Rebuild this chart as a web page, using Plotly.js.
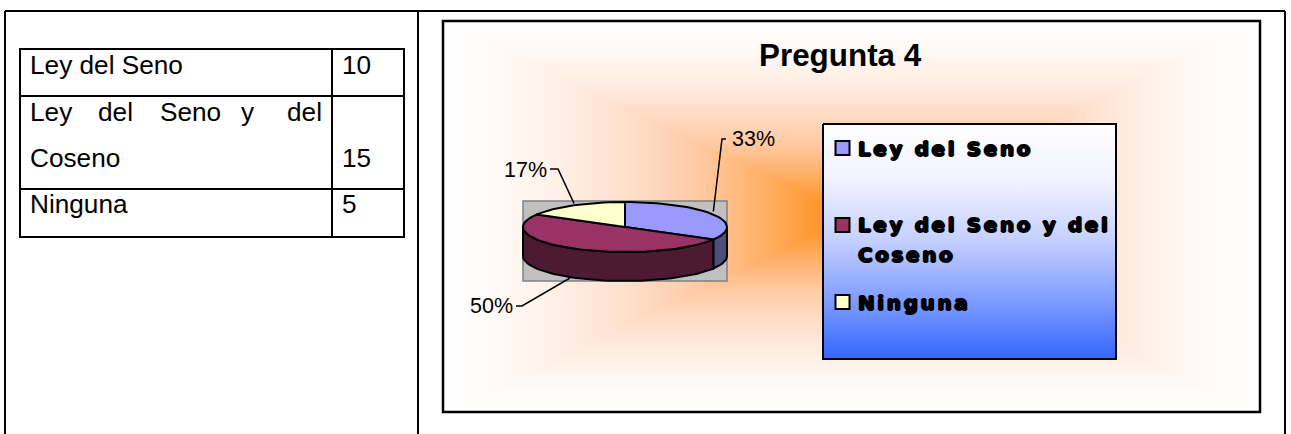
<!DOCTYPE html>
<html>
<head>
<meta charset="utf-8">
<title>Pregunta 4</title>
<script src="https://cdn.plot.ly/plotly-3.0.1.min.js"></script>
<style>html,body{margin:0;padding:0;background:#fff}#chart{width:1291px;height:434px}</style>
</head>
<body>
<div id="chart"></div>
<script>
// Survey answers for question 4
const chartTitle = 'Pregunta 4';
const categories = ['Ley del Seno', 'Ley del Seno y del Coseno', 'Ninguna'];
const answerCounts = [10, 15, 5];
const legendLines = [['Ley del Seno'], ['Ley del Seno y del', 'Coseno'], ['Ninguna']];
const sliceColors = ['#9999FF', '#993366', '#FFFFCC'];
const sideColors = ['#4D4D80', '#4D1A33'];

// Colour ramp of the panel background, from its centre to its edge
const panelRamp = [[0, '#FF9326'], [0.1, '#FF9A35'], [0.2, '#FFAD5E'], [0.37, '#FFC9A2'], [0.5, '#FFD9C0'], [0.62, '#FFE6D8'], [0.75, '#FFF2EA'], [0.87, '#FFFAF6'], [1, '#FFFFFF']];
// Legend fade, listed from the bottom of the box to its top
const legendRamp = [[0, '#3366FF'], [0.25, '#7F9CFF'], [0.5, '#C4CFFF'], [0.75, '#F0F2FF'], [1, '#FFFFFF']];

// Page layout, in pixels
const panel = {x0: 443, y0: 21, x1: 1260, y1: 412};
const pie = {cx: 625, cy: 227, rx: 102, ry: 25, depth: 29};
const legendBox = {x0: 823, y0: 124, x1: 1116, y1: 359};
const table = {x0: 20, x1: 404, y0: 49, y1: 237, split: 332, rows: [96, 189]};
const FONT = 'Liberation Sans, Arial, sans-serif';

const total = answerCounts.reduce((a, b) => a + b, 0);
const perc = answerCounts.map(v => Math.round(v / total * 100) + '%');

function hexToRgb(h) { return [1, 3, 5].map(i => parseInt(h.substr(i, 2), 16)); }
function rampColor(ramp, t) {
  for (let i = 1; i < ramp.length; i++) {
    if (t <= ramp[i][0]) {
      const f = (t - ramp[i - 1][0]) / (ramp[i][0] - ramp[i - 1][0]);
      const a = hexToRgb(ramp[i - 1][1]), b = hexToRgb(ramp[i][1]);
      return 'rgb(' + a.map((c, k) => Math.round(c + (b[k] - c) * f)).join(',') + ')';
    }
  }
  return ramp[ramp.length - 1][1];
}

// Point on the pie rim; angle runs clockwise from 12 o'clock, in degrees
function rim(deg, drop) {
  const r = deg * Math.PI / 180;
  return [pie.cx + pie.rx * Math.sin(r), pie.cy - pie.ry * Math.cos(r) + (drop || 0)];
}
function arc(a0, a1, drop) {
  const pts = [], n = Math.max(2, Math.ceil(Math.abs(a1 - a0) / 3));
  for (let i = 0; i <= n; i++) pts.push(rim(a0 + (a1 - a0) * i / n, drop));
  return pts;
}
function polyTrace(pts, fill) {
  return {type: 'scatter', mode: 'lines', x: pts.map(p => p[0]), y: pts.map(p => p[1]),
    fill: 'toself', fillcolor: fill, line: {color: '#000', width: 2},
    hoverinfo: 'skip', showlegend: false};
}

const traces = [];
let start = 0;
const sides = [], tops = [];
answerCounts.forEach((v, i) => {
  const end = start + v / total * 360;
  const a0 = Math.max(start, 90), a1 = Math.min(end, 270);
  if (a1 > a0) {
    const front = arc(a0, a1, 0).concat(arc(a1, a0, pie.depth));
    front.push(front[0]);
    sides.push(polyTrace(front, sideColors[i]));
  }
  const wedge = [[pie.cx, pie.cy]].concat(arc(start, end, 0));
  wedge.push([pie.cx, pie.cy]);
  tops.push(polyTrace(wedge, sliceColors[i]));
  start = end;
});
traces.push(...sides, ...tops);

// Leader lines from each slice to its percentage
const mids = [60, 195, 330];
const leaders = [
  [rim(mids[0], -3), [722, 139], [726, 139]],
  [[570, 278], [522, 306], [516, 306]],
  [rim(mids[2], -2), [558, 169], [550, 169]]
];
leaders.forEach(l => traces.push({type: 'scatter', mode: 'lines', x: l.map(p => p[0]), y: l.map(p => p[1]),
  line: {color: '#000', width: 1.5}, hoverinfo: 'skip', showlegend: false}));

// Legend box with a vertical fade
traces.push({type: 'scatter', mode: 'lines',
  x: [legendBox.x0, legendBox.x1, legendBox.x1, legendBox.x0, legendBox.x0],
  y: [legendBox.y0, legendBox.y0, legendBox.y1, legendBox.y1, legendBox.y0],
  fill: 'toself', line: {color: '#000', width: 2},
  fillgradient: {type: 'vertical', colorscale: legendRamp},
  hoverinfo: 'skip', showlegend: false});

// Legend keys
traces.push({type: 'scatter', mode: 'markers', x: [842.5, 842.5, 842.5], y: [148, 225, 302],
  marker: {symbol: 'square', size: 14, color: sliceColors, line: {color: '#000', width: 2}},
  hoverinfo: 'skip', showlegend: false});

const shapes = [];
// Panel background: nested rectangles stepping through the ramp
const pcx = (panel.x0 + panel.x1) / 2, pcy = (panel.y0 + panel.y1) / 2;
const steps = 200;
for (let i = steps; i >= 1; i--) {
  const t = i / steps;
  shapes.push({type: 'rect', layer: 'below',
    x0: pcx - t * (panel.x1 - panel.x0) / 2, x1: pcx + t * (panel.x1 - panel.x0) / 2,
    y0: pcy - t * (panel.y1 - panel.y0) / 2, y1: pcy + t * (panel.y1 - panel.y0) / 2,
    fillcolor: rampColor(panelRamp, t), line: {width: 0}});
}
const stroke = (x0, y0, x1, y1) => ({type: 'line', layer: 'below', x0, y0, x1, y1, line: {color: '#000', width: 2}});
shapes.push({type: 'rect', layer: 'below', x0: panel.x0, y0: panel.y0, x1: panel.x1, y1: panel.y1, line: {color: '#000', width: 2.5}, fillcolor: 'rgba(0,0,0,0)'});
// Grey plot area behind the pie
shapes.push({type: 'rect', layer: 'below', x0: pie.cx - pie.rx, x1: pie.cx + pie.rx, y0: 201, y1: 281, fillcolor: '#C0C0C0', line: {color: '#808080', width: 1.5}});
// Outer page frame
shapes.push(stroke(5, 11, 1285, 11), stroke(5, 11, 5, 434), stroke(418, 11, 418, 434), stroke(1285, 11, 1285, 434));
// Data table grid
shapes.push({type: 'rect', layer: 'below', x0: table.x0, x1: table.x1, y0: table.y0, y1: table.y1, line: {color: '#000', width: 2}, fillcolor: 'rgba(0,0,0,0)'});
shapes.push(stroke(table.split, table.y0, table.split, table.y1));
table.rows.forEach(y => shapes.push(stroke(table.x0, y, table.x1, y)));

function text(str, x, baseline, size, opts) {
  return Object.assign({text: str, x, y: baseline - size * 0.35, xref: 'x', yref: 'y', xanchor: 'left', yanchor: 'middle',
    align: 'left', showarrow: false, borderpad: 0, borderwidth: 0, font: {family: FONT, size, color: '#000'}}, opts || {});
}
const annotations = [];
annotations.push(text(chartTitle, 759, 66, 31.4, {font: {family: FONT, size: 31.4, color: '#000', weight: 'bold'}}));
// Table cells; the second row's first line is justified word by word
const TS = 26.2;
annotations.push(text(categories[0], 30, 74, TS));
const secondRow = categories[1].split(' ');
const justifiedX = [30, 98, 160, 241, 287];
secondRow.slice(0, 5).forEach((w, i) => annotations.push(text(w, justifiedX[i], 121, TS)));
annotations.push(text(secondRow[5], 30, 167, TS));
annotations.push(text(categories[2], 30, 213, TS));
[74, 167, 213].forEach((b, i) => annotations.push(text(String(answerCounts[i]), 342, b, TS)));
// Percentages
const LS = 21.5;
annotations.push(text(perc[0], 732, 147, LS));
annotations.push(text(perc[1], 470, 314, LS));
annotations.push(text(perc[2], 504, 178, LS));
// Legend entries, thickened with a tight shadow
const wide = s => '<span style="letter-spacing:2.6px">' + s + '</span>';
const legendFont = {family: 'DejaVu Sans, sans-serif', size: 20, color: '#000', weight: 'bold', shadow: '1px 0 0 #000, -1px 0 0 #000, 0 0.6px 0 #000, 0 -0.6px 0 #000'};
const legendBaselines = [[156], [232, 262], [310]];
legendLines.forEach((lines, i) => lines.forEach((ln, j) => annotations.push(text(wide(ln), 858, legendBaselines[i][j], 20, {font: legendFont}))));

const layout = {
  width: 1291, height: 434, margin: {l: 0, r: 0, t: 0, b: 0},
  paper_bgcolor: '#fff', plot_bgcolor: 'rgba(0,0,0,0)', showlegend: false,
  xaxis: {range: [0, 1291], visible: false, fixedrange: true},
  yaxis: {range: [434, 0], visible: false, fixedrange: true},
  shapes, annotations
};
Plotly.newPlot('chart', traces, layout, {displayModeBar: false, staticPlot: true});
</script>
</body>
</html>
